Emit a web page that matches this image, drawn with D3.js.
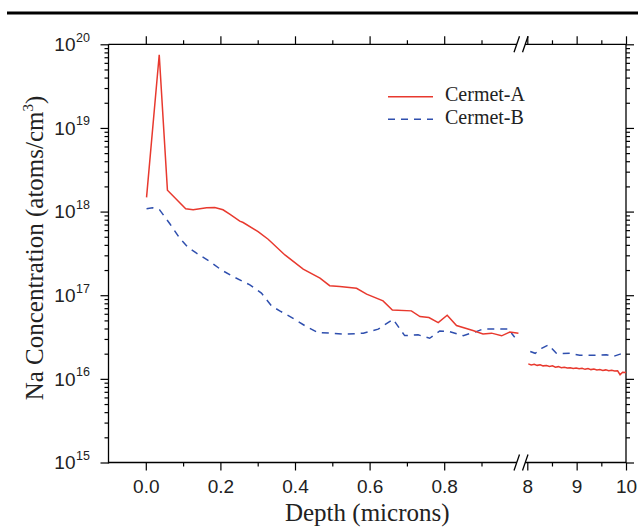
<!DOCTYPE html>
<html>
<head>
<meta charset="utf-8">
<script src="https://cdn.jsdelivr.net/npm/d3@7"></script>
<style>
body { margin: 0; background: #fff; }
svg { display: block; }
</style>
</head>
<body>
<div id="chart"></div>
<script>
var width = 638;
var height = 531;

// Cermet-A, shallow part (microns) and deep part
var depthA1 = [0.002, 0.036, 0.058, 0.107, 0.127, 0.163, 0.185, 0.207, 0.225, 0.252, 0.261, 0.301, 0.328, 0.373, 0.422, 0.467, 0.493, 0.520, 0.565, 0.592, 0.636, 0.661, 0.712, 0.735, 0.759, 0.784, 0.808, 0.833, 0.877, 0.904, 0.927, 0.954, 0.976, 0.999];
var concA1 = [1.48e18, 7.5e19, 1.8e18, 1.08e18, 1.05e18, 1.11e18, 1.12e18, 1.05e18, 9.3e17, 7.7e17, 7.4e17, 5.75e17, 4.67e17, 3.03e17, 2.05e17, 1.6e17, 1.3e17, 1.27e17, 1.21e17, 1.03e17, 8.55e16, 6.67e16, 6.5e16, 5.55e16, 5.4e16, 4.7e16, 5.77e16, 4.34e16, 3.78e16, 3.45e16, 3.52e16, 3.27e16, 3.63e16, 3.5e16];
var depthA2 = [8.02, 8.08, 8.14, 8.20, 8.26, 8.32, 8.39, 8.45, 8.51, 8.57, 8.63, 8.69, 8.75, 8.81, 8.87, 8.93, 8.99, 9.05, 9.11, 9.17, 9.23, 9.29, 9.35, 9.41, 9.47, 9.53, 9.59, 9.65, 9.71, 9.77, 9.83, 9.88, 9.93, 10.0];
var concA2 = [1.51e16, 1.47e16, 1.49e16, 1.45e16, 1.47e16, 1.43e16, 1.44e16, 1.41e16, 1.43e16, 1.38e16, 1.40e16, 1.36e16, 1.38e16, 1.35e16, 1.36e16, 1.33e16, 1.35e16, 1.32e16, 1.34e16, 1.30e16, 1.33e16, 1.29e16, 1.31e16, 1.28e16, 1.29e16, 1.26e16, 1.28e16, 1.25e16, 1.27e16, 1.24e16, 1.25e16, 1.12e16, 1.20e16, 1.19e16];

// Cermet-B
var depthB1 = [0.002, 0.018, 0.037, 0.064, 0.091, 0.113, 0.136, 0.172, 0.203, 0.234, 0.279, 0.310, 0.337, 0.359, 0.395, 0.431, 0.462, 0.493, 0.538, 0.583, 0.623, 0.663, 0.694, 0.730, 0.761, 0.788, 0.815, 0.851, 0.886, 0.904, 0.971, 0.989];
var concB1 = [1.08e18, 1.11e18, 1.05e18, 7.2e17, 4.8e17, 3.75e17, 3.18e17, 2.52e17, 2.0e17, 1.67e17, 1.33e17, 1.06e17, 7.45e16, 6.5e16, 5.3e16, 4.2e16, 3.57e16, 3.52e16, 3.42e16, 3.52e16, 3.93e16, 5.15e16, 3.29e16, 3.36e16, 3.06e16, 3.74e16, 3.67e16, 3.29e16, 3.67e16, 3.95e16, 3.95e16, 3.15e16];
var depthB2 = [8.06, 8.16, 8.29, 8.43, 8.59, 8.69, 8.86, 9.06, 9.33, 9.60, 9.74, 9.97];
var concB2 = [2.12e16, 2.02e16, 2.32e16, 2.55e16, 2.02e16, 2.0e16, 2.02e16, 1.92e16, 1.91e16, 1.94e16, 1.85e16, 2.06e16];

var xMajor1 = [0, 0.2, 0.4, 0.6, 0.8];
var xMinor1 = [0.1, 0.3, 0.5, 0.7, 0.9];
var xMajor2 = [8, 9, 10];
var xMinor2 = [8.5, 9.5];
var yDecades = [15, 16, 17, 18, 19, 20];

var red = "#e8392e";
var blue = "#2f4fae";

var plotLeft = 108.5, plotRight = 626, plotTop = 44.3, plotBottom = 462.5;
var breakX = 521;

var svg = d3.select("#chart")
    .append("svg")
    .attr("width", width)
    .attr("height", height)
    .style("background", "#fff");

var x1 = d3.scaleLinear().domain([-0.1, 1.0]).range([plotLeft, plotLeft + 1.1 * 373]);
var x2 = d3.scaleLinear().domain([8, 10]).range([527.3, plotRight]);
var y = d3.scaleLog().domain([1e15, 1e20]).range([plotBottom, plotTop]);

var yMajor = yDecades.map(function(e) { return Math.pow(10, e); });
var yMinor = [];
for (var e = 15; e < 20; e++) {
    for (var m = 2; m < 10; m++) yMinor.push(m * Math.pow(10, e));
}

// thick rule at the top of the figure
svg.append("line")
    .attr("x1", 7).attr("x2", width)
    .attr("y1", 13).attr("y2", 13)
    .attr("stroke", "#000").attr("stroke-width", 3);

function tickGroup(axis, tx, ty) {
    var g = svg.append("g")
        .attr("transform", "translate(" + tx + "," + ty + ")")
        .call(axis);
    g.select(".domain").remove();
    g.selectAll("line").attr("stroke", "#000").attr("stroke-width", 1.2);
    return g;
}

// y ticks, left and right
tickGroup(d3.axisLeft(y).tickValues(yMajor).tickSize(8).tickFormat(""), plotLeft, 0);
tickGroup(d3.axisLeft(y).tickValues(yMinor).tickSize(4).tickFormat(""), plotLeft, 0);
tickGroup(d3.axisRight(y).tickValues(yMajor).tickSize(8).tickFormat(""), plotRight, 0);
tickGroup(d3.axisRight(y).tickValues(yMinor).tickSize(4).tickFormat(""), plotRight, 0);

// x ticks, bottom with labels
var fmt = d3.format(".1f");
[[x1, xMajor1, xMinor1, fmt], [x2, xMajor2, xMinor2, d3.format("d")]].forEach(function(s) {
    var gb = tickGroup(d3.axisBottom(s[0]).tickValues(s[1]).tickSize(8).tickPadding(9).tickFormat(s[3]), 0, plotBottom);
    gb.selectAll("text")
        .attr("fill", "#222")
        .style("font-family", "'Liberation Sans', Arial, sans-serif")
        .style("font-size", "19px");
    tickGroup(d3.axisBottom(s[0]).tickValues(s[2]).tickSize(4).tickFormat(""), 0, plotBottom);
    tickGroup(d3.axisTop(s[0]).tickValues(s[1]).tickSize(8).tickFormat(""), 0, plotTop);
    tickGroup(d3.axisTop(s[0]).tickValues(s[2]).tickSize(4).tickFormat(""), 0, plotTop);
});

// axis lines with the break
var frame = svg.append("g").attr("stroke", "#000").attr("stroke-width", 1.3).attr("fill", "none");
frame.append("line").attr("x1", plotLeft).attr("x2", plotLeft).attr("y1", plotTop).attr("y2", plotBottom + 1);
frame.append("line").attr("x1", plotRight).attr("x2", plotRight).attr("y1", plotTop).attr("y2", plotBottom);
[plotTop, plotBottom].forEach(function(yy) {
    frame.append("line").attr("x1", plotLeft).attr("x2", breakX - 4).attr("y1", yy).attr("y2", yy);
    frame.append("line").attr("x1", breakX + 4).attr("x2", plotRight).attr("y1", yy).attr("y2", yy);
    frame.append("line").attr("x1", breakX - 7).attr("x2", breakX - 1.5).attr("y1", yy + 8).attr("y2", yy - 8);
    frame.append("line").attr("x1", breakX + 1.5).attr("x2", breakX + 7).attr("y1", yy + 8).attr("y2", yy - 8);
});

// y tick labels 10^n
var ylab = svg.append("g")
    .style("font-family", "'Liberation Sans', Arial, sans-serif")
    .attr("fill", "#222");
yDecades.forEach(function(e) {
    var yy = y(Math.pow(10, e));
    ylab.append("text")
        .attr("x", 75.5).attr("y", yy + 6.8)
        .attr("text-anchor", "end")
        .style("font-size", "19px")
        .text("10");
    ylab.append("text")
        .attr("x", 76).attr("y", yy - 2.6)
        .style("font-size", "12.5px")
        .text(e);
});

// data lines
var line1 = d3.line().x(function(d) { return x1(d[0]); }).y(function(d) { return y(d[1]); });
var line2 = d3.line().x(function(d) { return x2(d[0]); }).y(function(d) { return y(d[1]); });

function pairs(a, b) { return a.map(function(v, i) { return [v, b[i]]; }); }

svg.append("path").datum(pairs(depthB1, concB1)).attr("d", line1)
    .attr("fill", "none").attr("stroke", blue).attr("stroke-width", 1.5).attr("stroke-dasharray", "7,6");
svg.append("path").datum(pairs(depthB2, concB2)).attr("d", line2)
    .attr("fill", "none").attr("stroke", blue).attr("stroke-width", 1.5).attr("stroke-dasharray", "7,6");
svg.append("path").datum(pairs(depthA1, concA1)).attr("d", line1)
    .attr("fill", "none").attr("stroke", red).attr("stroke-width", 1.5);
svg.append("path").datum(pairs(depthA2, concA2)).attr("d", line2)
    .attr("fill", "none").attr("stroke", red).attr("stroke-width", 1.5);

// legend
var serif = "'Liberation Serif', 'Times New Roman', serif";
var legend = svg.append("g").style("font-family", serif).style("font-size", "20px").attr("fill", "#222");
legend.append("line").attr("x1", 388).attr("x2", 433).attr("y1", 96.7).attr("y2", 96.7)
    .attr("stroke", red).attr("stroke-width", 1.5);
legend.append("text").attr("x", 445).attr("y", 100.5).text("Cermet-A");
legend.append("line").attr("x1", 388).attr("x2", 433).attr("y1", 119.3).attr("y2", 119.3)
    .attr("stroke", blue).attr("stroke-width", 1.5).attr("stroke-dasharray", "7,6");
legend.append("text").attr("x", 445).attr("y", 123.5).text("Cermet-B");

// axis titles
svg.append("text")
    .attr("x", (plotLeft + plotRight) / 2).attr("y", 521)
    .attr("text-anchor", "middle")
    .style("font-family", serif).style("font-size", "25px").attr("fill", "#222")
    .text("Depth (microns)");

var yt = svg.append("text")
    .attr("transform", "translate(43,248) rotate(-90)")
    .attr("text-anchor", "middle")
    .style("font-family", serif).style("font-size", "25px").attr("fill", "#222");
yt.append("tspan").text("Na Concentration (atoms/cm");
yt.append("tspan").attr("dy", -10).style("font-size", "15px").text("3");
yt.append("tspan").attr("dy", 10).text(")");
</script>
</body>
</html>
